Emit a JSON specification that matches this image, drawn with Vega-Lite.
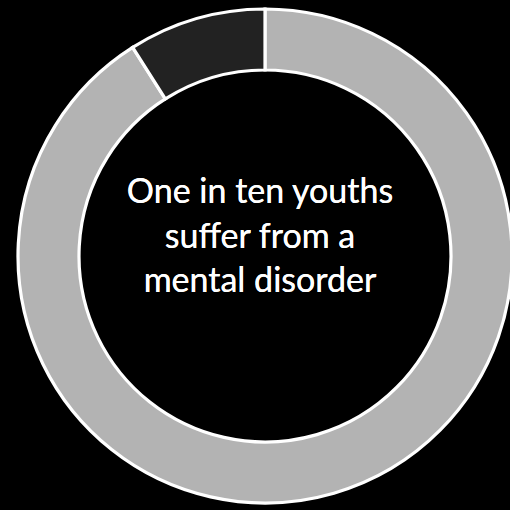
{
  "$schema": "https://vega.github.io/schema/vega-lite/v6.json",
  "width": 500,
  "height": 500,
  "padding": {"left": 11, "top": 2, "right": 0, "bottom": 0},
  "background": "#000000",
  "config": {"view": {"stroke": null}},
  "data": {
    "values": [
      {"group": "No mental disorder", "share": 91, "order": 1},
      {"group": "Mental disorder", "share": 9, "order": 2}
    ]
  },
  "layer": [
    {
      "mark": {"type": "arc", "radius": 247, "radius2": 186, "stroke": "#ffffff", "strokeWidth": 3.2},
      "encoding": {
        "theta": {"field": "share", "type": "quantitative", "stack": true},
        "order": {"field": "order", "type": "ordinal"},
        "color": {
          "field": "group",
          "type": "nominal",
          "scale": {"domain": ["No mental disorder", "Mental disorder"], "range": ["#b3b3b3", "#222222"]},
          "legend": null
        }
      }
    },
    {
      "mark": {
        "type": "text",
        "font": "Lato",
        "fontSize": 34,
        "color": "#ffffff",
        "align": "center",
        "baseline": "middle",
        "lineHeight": 44.5,
        "dx": -5,
        "dy": -63
      },
      "encoding": {
        "text": {"value": ["One in ten youths", "suffer from a", "mental disorder"]}
      }
    }
  ]
}
